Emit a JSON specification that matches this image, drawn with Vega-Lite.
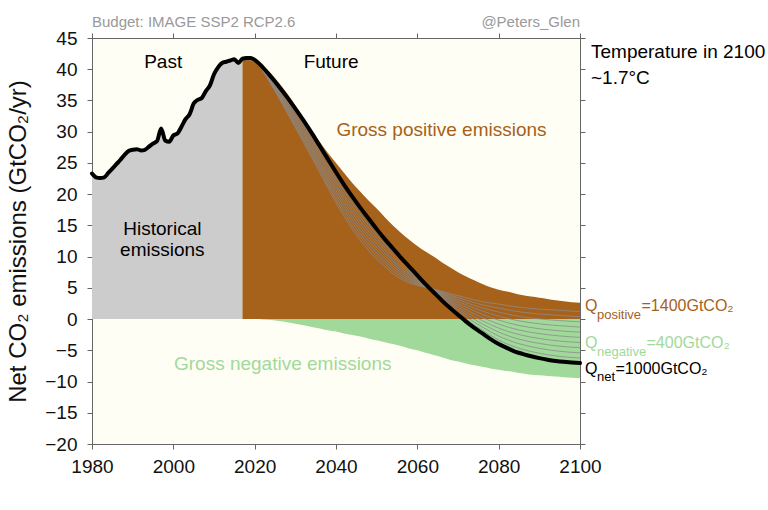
{
  "$schema": "https://vega.github.io/schema/vega-lite/v6.json",
  "width": 488,
  "height": 406,
  "autosize": {"type": "none"},
  "padding": {"left": 92, "top": 38, "right": 188, "bottom": 66},
  "background": "white",
  "config": {
    "font": "Liberation Sans",
    "view": {"fill": "#fffef4", "stroke": "#666", "strokeWidth": 1},
    "axis": {
      "domainColor": "#666", "tickColor": "#666", "tickSize": 5, "grid": false,
      "labelFont": "Liberation Sans", "labelFontSize": 19, "labelColor": "#111",
      "titleFont": "Liberation Sans", "titleFontWeight": "normal", "titleColor": "#111"
    },
    "text": {"font": "Liberation Sans"}
  },
  "datasets": {
    "em": [
      {"year": 1980, "net": 23.3}, {"year": 1981, "net": 22.7}, {"year": 1982, "net": 22.6}, {"year": 1983, "net": 22.7},
      {"year": 1984, "net": 23.4}, {"year": 1985, "net": 24.1}, {"year": 1986, "net": 24.8}, {"year": 1987, "net": 25.5},
      {"year": 1988, "net": 26.3}, {"year": 1989, "net": 26.9}, {"year": 1990, "net": 27.1}, {"year": 1991, "net": 27.2},
      {"year": 1992, "net": 27.0}, {"year": 1993, "net": 27.1}, {"year": 1994, "net": 27.6}, {"year": 1995, "net": 28.1},
      {"year": 1996, "net": 28.5}, {"year": 1997, "net": 30.5}, {"year": 1998, "net": 28.6}, {"year": 1999, "net": 28.4},
      {"year": 2000, "net": 29.4}, {"year": 2001, "net": 29.7}, {"year": 2002, "net": 30.8}, {"year": 2003, "net": 32.0},
      {"year": 2004, "net": 32.8}, {"year": 2005, "net": 34.5}, {"year": 2006, "net": 35.1}, {"year": 2007, "net": 35.4},
      {"year": 2008, "net": 36.5}, {"year": 2009, "net": 37.4}, {"year": 2010, "net": 39.2}, {"year": 2011, "net": 40.3},
      {"year": 2012, "net": 41.0}, {"year": 2013, "net": 41.2}, {"year": 2014, "net": 41.4}, {"year": 2015, "net": 41.6},
      {"year": 2016, "net": 41.0},
      {"year": 2017, "net": 41.7, "pos": 41.7, "neg": 0},
      {"year": 2018, "net": 41.8, "pos": 41.8, "neg": 0},
      {"year": 2019, "net": 41.8, "pos": 41.8, "neg": 0},
      {"year": 2020, "net": 41.5, "pos": 41.5, "neg": 0},
      {"year": 2022, "net": 40.3, "pos": 40.6, "neg": -0.05},
      {"year": 2024, "net": 38.8, "pos": 39.3, "neg": -0.15},
      {"year": 2026, "net": 37.2, "pos": 37.8, "neg": -0.3},
      {"year": 2028, "net": 35.5, "pos": 36.1, "neg": -0.5},
      {"year": 2030, "net": 33.7, "pos": 34.2, "neg": -0.75},
      {"year": 2032, "net": 31.8, "pos": 32.2, "neg": -1.0},
      {"year": 2034, "net": 29.8, "pos": 30.3, "neg": -1.25},
      {"year": 2036, "net": 27.7, "pos": 28.4, "neg": -1.5},
      {"year": 2038, "net": 25.6, "pos": 26.6, "neg": -1.8},
      {"year": 2040, "net": 23.5, "pos": 25.0, "neg": -2.0},
      {"year": 2042, "net": 21.5, "pos": 23.4, "neg": -2.3},
      {"year": 2044, "net": 19.6, "pos": 21.8, "neg": -2.55},
      {"year": 2046, "net": 17.8, "pos": 20.4, "neg": -2.8},
      {"year": 2048, "net": 16.1, "pos": 19.0, "neg": -3.1},
      {"year": 2050, "net": 14.4, "pos": 17.7, "neg": -3.4},
      {"year": 2052, "net": 12.8, "pos": 16.3, "neg": -3.7},
      {"year": 2054, "net": 11.3, "pos": 15.0, "neg": -4.0},
      {"year": 2056, "net": 9.8, "pos": 13.8, "neg": -4.3},
      {"year": 2058, "net": 8.4, "pos": 12.7, "neg": -4.7},
      {"year": 2060, "net": 7.0, "pos": 11.7, "neg": -5.0},
      {"year": 2062, "net": 5.6, "pos": 10.8, "neg": -5.4},
      {"year": 2064, "net": 4.3, "pos": 10.0, "neg": -5.75},
      {"year": 2066, "net": 3.0, "pos": 9.1, "neg": -6.1},
      {"year": 2068, "net": 1.8, "pos": 8.3, "neg": -6.5},
      {"year": 2070, "net": 0.7, "pos": 7.5, "neg": -6.8},
      {"year": 2072, "net": -0.4, "pos": 6.8, "neg": -7.1},
      {"year": 2074, "net": -1.4, "pos": 6.2, "neg": -7.4},
      {"year": 2076, "net": -2.3, "pos": 5.6, "neg": -7.65},
      {"year": 2078, "net": -3.2, "pos": 5.1, "neg": -7.9},
      {"year": 2080, "net": -4.0, "pos": 4.7, "neg": -8.1},
      {"year": 2082, "net": -4.6, "pos": 4.4, "neg": -8.3},
      {"year": 2084, "net": -5.2, "pos": 4.1, "neg": -8.5},
      {"year": 2086, "net": -5.6, "pos": 3.8, "neg": -8.7},
      {"year": 2088, "net": -5.95, "pos": 3.6, "neg": -8.9},
      {"year": 2090, "net": -6.25, "pos": 3.4, "neg": -9.0},
      {"year": 2092, "net": -6.5, "pos": 3.2, "neg": -9.1},
      {"year": 2094, "net": -6.7, "pos": 3.0, "neg": -9.2},
      {"year": 2096, "net": -6.85, "pos": 2.85, "neg": -9.3},
      {"year": 2098, "net": -6.95, "pos": 2.7, "neg": -9.4},
      {"year": 2100, "net": -7.05, "pos": 2.6, "neg": -9.45}
    ],
    "fan": [
      {"year": 2017, "g0": 41.7, "g1": 41.7, "g2": 41.7, "g3": 41.7, "g4": 41.7, "g5": 41.7, "g6": 41.7, "g7": 41.7, "g8": 41.7, "g9": 41.7},
      {"year": 2020, "g0": 41.2, "g1": 41.23, "g2": 41.26, "g3": 41.29, "g4": 41.32, "g5": 41.35, "g6": 41.38, "g7": 41.41, "g8": 41.44, "g9": 41.47},
      {"year": 2024, "g0": 37.6, "g1": 37.72, "g2": 37.84, "g3": 37.96, "g4": 38.08, "g5": 38.2, "g6": 38.32, "g7": 38.44, "g8": 38.56, "g9": 38.68},
      {"year": 2028, "g0": 33.0, "g1": 33.25, "g2": 33.5, "g3": 33.75, "g4": 34.0, "g5": 34.25, "g6": 34.5, "g7": 34.75, "g8": 35.0, "g9": 35.25},
      {"year": 2032, "g0": 28.3, "g1": 28.65, "g2": 29.0, "g3": 29.35, "g4": 29.7, "g5": 30.05, "g6": 30.4, "g7": 30.75, "g8": 31.1, "g9": 31.45},
      {"year": 2036, "g0": 23.5, "g1": 23.92, "g2": 24.34, "g3": 24.76, "g4": 25.18, "g5": 25.6, "g6": 26.02, "g7": 26.44, "g8": 26.86, "g9": 27.28},
      {"year": 2040, "g0": 18.6, "g1": 19.09, "g2": 19.58, "g3": 20.07, "g4": 20.56, "g5": 21.05, "g6": 21.54, "g7": 22.03, "g8": 22.52, "g9": 23.01},
      {"year": 2044, "g0": 14.4, "g1": 14.92, "g2": 15.44, "g3": 15.96, "g4": 16.48, "g5": 17.0, "g6": 17.52, "g7": 18.04, "g8": 18.56, "g9": 19.08},
      {"year": 2048, "g0": 11.0, "g1": 11.51, "g2": 12.02, "g3": 12.53, "g4": 13.04, "g5": 13.55, "g6": 14.06, "g7": 14.57, "g8": 15.08, "g9": 15.59},
      {"year": 2052, "g0": 8.4, "g1": 8.84, "g2": 9.28, "g3": 9.72, "g4": 10.16, "g5": 10.6, "g6": 11.04, "g7": 11.48, "g8": 11.92, "g9": 12.36},
      {"year": 2056, "g0": 6.4, "g1": 6.74, "g2": 7.08, "g3": 7.42, "g4": 7.76, "g5": 8.1, "g6": 8.44, "g7": 8.78, "g8": 9.12, "g9": 9.46},
      {"year": 2060, "g0": 5.4, "g1": 5.56, "g2": 5.72, "g3": 5.88, "g4": 6.04, "g5": 6.2, "g6": 6.36, "g7": 6.52, "g8": 6.68, "g9": 6.84},
      {"year": 2064, "g0": 4.8, "g1": 4.75, "g2": 4.7, "g3": 4.65, "g4": 4.6, "g5": 4.55, "g6": 4.5, "g7": 4.45, "g8": 4.4, "g9": 4.35},
      {"year": 2068, "g0": 4.1, "g1": 3.87, "g2": 3.64, "g3": 3.41, "g4": 3.18, "g5": 2.95, "g6": 2.72, "g7": 2.49, "g8": 2.26, "g9": 2.03},
      {"year": 2072, "g0": 3.4, "g1": 3.02, "g2": 2.64, "g3": 2.26, "g4": 1.88, "g5": 1.5, "g6": 1.12, "g7": 0.74, "g8": 0.36, "g9": -0.02},
      {"year": 2076, "g0": 2.8, "g1": 2.29, "g2": 1.78, "g3": 1.27, "g4": 0.76, "g5": 0.25, "g6": -0.26, "g7": -0.77, "g8": -1.28, "g9": -1.79},
      {"year": 2080, "g0": 2.4, "g1": 1.76, "g2": 1.12, "g3": 0.48, "g4": -0.16, "g5": -0.8, "g6": -1.44, "g7": -2.08, "g8": -2.72, "g9": -3.36},
      {"year": 2085, "g0": 1.9, "g1": 1.17, "g2": 0.44, "g3": -0.29, "g4": -1.02, "g5": -1.75, "g6": -2.48, "g7": -3.21, "g8": -3.94, "g9": -4.67},
      {"year": 2090, "g0": 1.6, "g1": 0.82, "g2": 0.03, "g3": -0.76, "g4": -1.54, "g5": -2.33, "g6": -3.11, "g7": -3.9, "g8": -4.68, "g9": -5.47},
      {"year": 2095, "g0": 1.4, "g1": 0.58, "g2": -0.24, "g3": -1.06, "g4": -1.88, "g5": -2.7, "g6": -3.52, "g7": -4.34, "g8": -5.16, "g9": -5.98},
      {"year": 2100, "g0": 1.2, "g1": 0.38, "g2": -0.45, "g3": -1.28, "g4": -2.1, "g5": -2.93, "g6": -3.75, "g7": -4.58, "g8": -5.4, "g9": -6.23}
    ]
  },
  "layer": [
    {
      "encoding": {
        "x": {
          "field": "year", "type": "quantitative",
          "scale": {"domain": [1980, 2100], "nice": false, "zero": false},
          "axis": {"values": [1980, 2000, 2020, 2040, 2060, 2080, 2100], "format": "d", "title": null, "labelPadding": 8, "labelFlush": false}
        },
        "y": {
          "field": "v", "type": "quantitative",
          "scale": {"domain": [-20, 45], "nice": false, "zero": false},
          "axis": {"values": [-20, -15, -10, -5, 0, 5, 10, 15, 20, 25, 30, 35, 40, 45], "title": "Net CO₂ emissions (GtCO₂/yr)", "titleFontSize": 24, "titlePadding": 14, "labelPadding": 10, "labelFlush": false}
        }
      },
      "layer": [
        {
          "data": {"name": "em"},
          "transform": [{"fold": ["net"], "as": ["s", "v"]}, {"filter": "datum.year <= 2017"}],
          "mark": {"type": "area", "color": "#cccccc", "interpolate": "monotone"},
          "encoding": {"y2": {"datum": 0}}
        },
        {
          "data": {"name": "em"},
          "transform": [{"fold": ["pos"], "as": ["s", "v"]}, {"filter": "isValid(datum.v)"}],
          "mark": {"type": "area", "color": "#a6611a", "interpolate": "monotone"},
          "encoding": {"y2": {"datum": 0}}
        },
        {
          "data": {"name": "em"},
          "transform": [{"fold": ["neg"], "as": ["s", "v"]}, {"filter": "isValid(datum.v)"}],
          "mark": {"type": "area", "color": "#a1d99b", "interpolate": "monotone"},
          "encoding": {"y2": {"datum": 0}}
        },
        {
          "data": {"name": "fan"},
          "transform": [{"fold": ["g0", "g1", "g2", "g3", "g4", "g5", "g6", "g7", "g8", "g9"], "as": ["s", "v"]}],
          "mark": {"type": "line", "color": "#8c8c8c", "strokeWidth": 0.8, "interpolate": "monotone"},
          "encoding": {"detail": {"field": "s"}}
        },
        {
          "data": {"name": "em"},
          "transform": [{"fold": ["net"], "as": ["s", "v"]}],
          "mark": {"type": "line", "color": "#000000", "strokeWidth": 4, "interpolate": "monotone", "strokeJoin": "round", "strokeCap": "round"},
          "encoding": {}
        },
        {
          "data": {"values": [
            {"year": 1997.5, "v": 41.2, "t": "Past"},
            {"year": 2038.8, "v": 41.1, "t": "Future"},
            {"year": 1997.3, "v": 14.5, "t": "Historical"},
            {"year": 1997.3, "v": 11.0, "t": "emissions"}
          ]},
          "mark": {"type": "text", "fontSize": 19, "color": "#000000", "align": "center", "baseline": "middle"},
          "encoding": {"text": {"field": "t"}}
        },
        {
          "data": {"values": [{"year": 2040.1, "v": 30.3, "t": "Gross positive emissions"}]},
          "mark": {"type": "text", "fontSize": 19, "color": "#a6611a", "align": "left", "baseline": "middle"},
          "encoding": {"text": {"field": "t"}}
        },
        {
          "data": {"values": [{"year": 2026.9, "v": -7.2, "t": "Gross negative emissions"}]},
          "mark": {"type": "text", "fontSize": 19, "color": "#a1d99b", "align": "center", "baseline": "middle"},
          "encoding": {"text": {"field": "t"}}
        },
        {
          "data": {"values": [{"year": 1980, "v": 47.5, "t": "Budget: IMAGE SSP2 RCP2.6"}]},
          "mark": {"type": "text", "fontSize": 15, "color": "#999999", "align": "left", "baseline": "middle"},
          "encoding": {"text": {"field": "t"}}
        },
        {
          "data": {"values": [{"year": 2100, "v": 47.5, "t": "@Peters_Glen"}]},
          "mark": {"type": "text", "fontSize": 15, "color": "#999999", "align": "right", "baseline": "middle"},
          "encoding": {"text": {"field": "t"}}
        },
        {
          "data": {"values": [
            {"year": 2100, "v": 42.7, "t": "Temperature in 2100"},
            {"year": 2100, "v": 38.6, "t": "~1.7°C"}
          ]},
          "mark": {"type": "text", "fontSize": 19, "color": "#000000", "align": "left", "baseline": "middle", "dx": 11},
          "encoding": {"text": {"field": "t"}}
        },
        {
          "data": {"values": [
            {"year": 2100, "v": 1.22, "k": "pos"},
            {"year": 2100, "v": -4.65, "k": "neg"},
            {"year": 2100, "v": -8.77, "k": "net"}
          ]},
          "mark": {"type": "text", "text": "Q", "fontSize": 16, "align": "left", "baseline": "alphabetic", "dx": 5},
          "encoding": {"color": {"field": "k", "type": "nominal", "scale": {"domain": ["pos", "neg", "net"], "range": ["#a6611a", "#a1d99b", "#000000"]}, "legend": null}}
        },
        {
          "data": {"values": [
            {"year": 2100, "v": 0.0, "k": "pos", "t": "positive"},
            {"year": 2100, "v": -5.9, "k": "neg", "t": "negative"},
            {"year": 2100, "v": -9.84, "k": "net", "t": "net"}
          ]},
          "mark": {"type": "text", "fontSize": 13, "align": "left", "baseline": "alphabetic", "dx": 17},
          "encoding": {"text": {"field": "t"}, "color": {"field": "k", "type": "nominal", "scale": {"domain": ["pos", "neg", "net"], "range": ["#a6611a", "#a1d99b", "#000000"]}, "legend": null}}
        },
        {
          "data": {"values": [{"year": 2100, "v": 1.22, "t": "=1400GtCO₂"}]},
          "mark": {"type": "text", "fontSize": 16, "color": "#a6611a", "align": "left", "baseline": "alphabetic", "dx": 61.5},
          "encoding": {"text": {"field": "t"}}
        },
        {
          "data": {"values": [{"year": 2100, "v": -4.65, "t": "=400GtCO₂"}]},
          "mark": {"type": "text", "fontSize": 16, "color": "#a1d99b", "align": "left", "baseline": "alphabetic", "dx": 66.5},
          "encoding": {"text": {"field": "t"}}
        },
        {
          "data": {"values": [{"year": 2100, "v": -8.77, "t": "=1000GtCO₂"}]},
          "mark": {"type": "text", "fontSize": 16, "color": "#000000", "align": "left", "baseline": "alphabetic", "dx": 35.5},
          "encoding": {"text": {"field": "t"}}
        }
      ]
    },
    {
      "data": {"values": [{"year": 1980, "v": 0}]},
      "mark": {"type": "point", "opacity": 0},
      "encoding": {
        "x": {
          "field": "year", "type": "quantitative",
          "scale": {"domain": [1980, 2100], "nice": false, "zero": false},
          "axis": {"orient": "top", "values": [1980, 2000, 2020, 2040, 2060, 2080, 2100], "labels": false, "title": null}
        },
        "y": {
          "field": "v", "type": "quantitative",
          "scale": {"domain": [-20, 45], "nice": false, "zero": false},
          "axis": {"orient": "right", "values": [-20, -15, -10, -5, 0, 5, 10, 15, 20, 25, 30, 35, 40, 45], "labels": false, "title": null}
        }
      }
    }
  ],
  "resolve": {"axis": {"x": "independent", "y": "independent"}}
}
